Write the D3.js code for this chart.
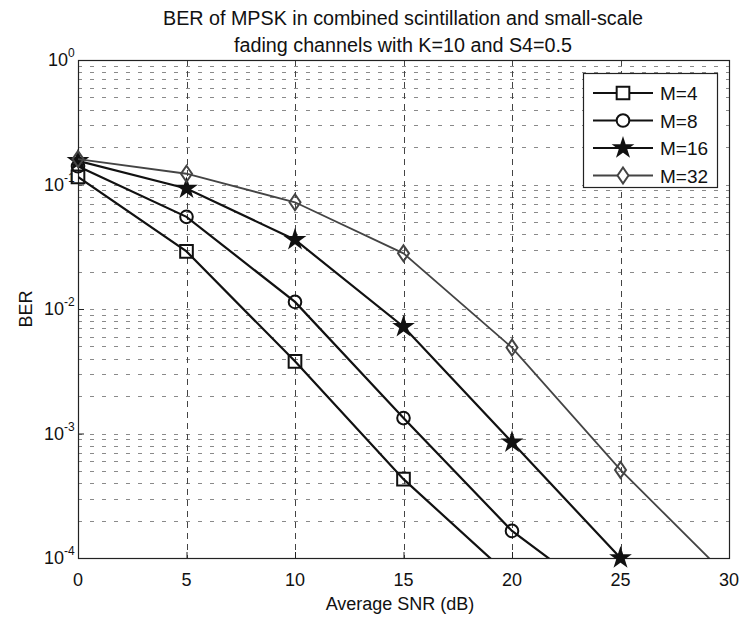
<!DOCTYPE html>
<html>
<head>
<meta charset="utf-8">
<script src="https://cdn.jsdelivr.net/npm/d3@7"></script>
<style>
  html, body { margin: 0; padding: 0; background: #fff; }
  svg { display: block; font-family: "Liberation Sans", Arial, sans-serif; }
</style>
</head>
<body>
<svg id="chart" width="741" height="617"></svg>
<script>
// Average SNR (dB) sample points
const snr = [0, 5, 10, 15, 20, 25, 30];

// BER for each modulation order (points below 1e-4 are clipped by the axes)
const berM4  = [0.115, 0.029, 0.0038, 0.00043, 0.000069];
const berM8  = [0.14, 0.055, 0.0114, 0.00133, 0.000165, 0.000037];
const berM16 = [0.155, 0.093, 0.036, 0.0072, 0.00085, 0.0001];
const berM32 = [0.16, 0.122, 0.072, 0.028, 0.0049, 0.00051, 0.000069];

const seriesNames = ["M=4", "M=8", "M=16", "M=32"];
const seriesValues = [berM4, berM8, berM16, berM32];
const seriesMarkers = ["square", "circle", "star", "diamond"];

const xTicks = [0, 5, 10, 15, 20, 25, 30];
const yDecades = [0, -1, -2, -3, -4];

const titleLines = [
  "BER of MPSK in combined scintillation and small-scale",
  "fading channels with K=10 and S4=0.5"
];
const xLabel = "Average SNR (dB)";
const yLabel = "BER";

const svg = d3.select("#chart");
const plot = { left: 78, right: 729, top: 60, bottom: 558 };

const x = d3.scaleLinear().domain([0, 30]).range([plot.left, plot.right]);
const y = d3.scaleLog().domain([1e-4, 1]).range([plot.bottom, plot.top]);

svg.append("defs").append("clipPath").attr("id", "plotClip")
  .append("rect")
  .attr("x", plot.left).attr("y", plot.top)
  .attr("width", plot.right - plot.left).attr("height", plot.bottom - plot.top);

// Grid: minor log lines for every 2..9 x 10^k, major lines at x ticks
const gridY = [];
for (let k = -4; k < 0; k++) {
  for (let m = 1; m <= 9; m++) gridY.push(m * Math.pow(10, k));
}
const grid = svg.append("g").attr("stroke-width", 1).attr("fill", "none");
grid.selectAll("line.gy").data(gridY.filter(v => v > 1e-4 && v < 1)).join("line")
  .attr("x1", plot.left).attr("x2", plot.right)
  .attr("y1", d => Math.round(y(d)) + 0.5).attr("y2", d => Math.round(y(d)) + 0.5)
  .attr("stroke", "#8a8a8a").attr("stroke-dasharray", "4,8");
grid.selectAll("line.gx").data(xTicks.filter(v => v > 0 && v < 30)).join("line")
  .attr("y1", plot.top).attr("y2", plot.bottom)
  .attr("x1", d => Math.round(x(d)) + 0.5).attr("x2", d => Math.round(x(d)) + 0.5)
  .attr("stroke", "#444").attr("stroke-dasharray", "6,5");

// Axes box
svg.append("rect")
  .attr("x", plot.left + 0.5).attr("y", plot.top + 0.5)
  .attr("width", plot.right - plot.left).attr("height", plot.bottom - plot.top)
  .attr("fill", "none").attr("stroke", "#222").attr("stroke-width", 1.2);

// Axes tick marks drawn with d3 axes (inside, no labels)
const xAxis = d3.axisBottom(x).tickValues(xTicks).tickSize(-6).tickFormat("");
svg.append("g").attr("transform", `translate(0,${plot.bottom})`).call(xAxis)
  .call(g => g.select(".domain").remove())
  .call(g => g.selectAll("line").attr("stroke", "#222"));
const yAxis = d3.axisLeft(y).tickValues(yDecades.map(k => Math.pow(10, k))).tickSize(-6).tickFormat("");
svg.append("g").attr("transform", `translate(${plot.left},0)`).call(yAxis)
  .call(g => g.select(".domain").remove())
  .call(g => g.selectAll("line").attr("stroke", "#222"));

// X tick labels
svg.append("g").selectAll("text").data(xTicks).join("text")
  .attr("x", d => x(d)).attr("y", 586)
  .attr("text-anchor", "middle").attr("font-size", 18).attr("fill", "#111")
  .text(d => d);

// Y tick labels as 10^k
const yl = svg.append("g").selectAll("text").data(yDecades).join("text")
  .attr("y", d => y(Math.pow(10, d)) + 6)
  .attr("font-size", 18).attr("fill", "#111");
yl.each(function(d) {
  const t = d3.select(this);
  t.attr("x", d === 0 ? 48 : 44);
  t.append("tspan").text("10");
  t.append("tspan").attr("dy", -9).attr("font-size", 12).text(String(d));
});

// Axis titles
svg.append("text").attr("x", 400).attr("y", 610)
  .attr("text-anchor", "middle").attr("font-size", 18).attr("fill", "#111").text(xLabel);
svg.append("text").attr("transform", "translate(32,309) rotate(-90)")
  .attr("text-anchor", "middle").attr("font-size", 18).attr("fill", "#111").text(yLabel);

// Title (slightly condensed face, stretched to its set width)
const titleWidths = [480, 338];
svg.append("g").selectAll("text").data(titleLines).join("text")
  .attr("x", 403).attr("y", (d, i) => 25 + i * 27)
  .attr("text-anchor", "middle").attr("font-size", 20).attr("fill", "#111")
  .attr("textLength", (d, i) => titleWidths[i]).attr("lengthAdjust", "spacingAndGlyphs")
  .text(d => d);

// Marker shapes
function markerPath(kind) {
  if (kind === "square") return d3.symbol(d3.symbolSquare, 160)();
  if (kind === "circle") return d3.symbol(d3.symbolCircle, 125)();
  if (kind === "star") return d3.symbol(d3.symbolStar, 85)();
  return "M0,-8L5.5,0L0,8L-5.5,0Z";
}
const seriesColor = ["#111", "#111", "#111", "#444"];
const seriesWidth = [2.2, 2.2, 2.2, 1.8];

const line = d3.line().x((d, i) => x(snr[i])).y(d => y(d));

seriesValues.forEach((vals, si) => {
  svg.append("path").datum(vals)
    .attr("clip-path", "url(#plotClip)")
    .attr("fill", "none").attr("stroke", seriesColor[si]).attr("stroke-width", seriesWidth[si])
    .attr("d", line);
  const pts = vals.map((v, i) => ({ v, s: snr[i] })).filter(p => p.v >= 1e-4 * 0.999);
  svg.append("g").selectAll("path").data(pts).join("path")
    .attr("transform", p => `translate(${x(p.s)},${y(p.v)})`)
    .attr("d", markerPath(seriesMarkers[si]))
    .attr("fill", seriesMarkers[si] === "star" ? seriesColor[si] : "none")
    .attr("stroke", seriesColor[si]).attr("stroke-width", 2);
});

// Legend
const legend = svg.append("g");
legend.append("rect").attr("x", 583.5).attr("y", 73.5).attr("width", 134).attr("height", 114)
  .attr("fill", "#fff").attr("stroke", "#222").attr("stroke-width", 1.2);
seriesNames.forEach((name, si) => {
  const ly = 93 + si * 27.5;
  legend.append("line").attr("x1", 593).attr("x2", 653).attr("y1", ly).attr("y2", ly)
    .attr("stroke", seriesColor[si]).attr("stroke-width", seriesWidth[si]);
  legend.append("path").attr("transform", `translate(623,${ly})`)
    .attr("d", markerPath(seriesMarkers[si]))
    .attr("fill", seriesMarkers[si] === "star" ? seriesColor[si] : "#fff")
    .attr("stroke", seriesColor[si]).attr("stroke-width", 2);
  legend.append("text").attr("x", 660).attr("y", ly + 7).attr("font-size", 19)
    .attr("fill", "#111").text(name);
});
</script>
</body>
</html>
